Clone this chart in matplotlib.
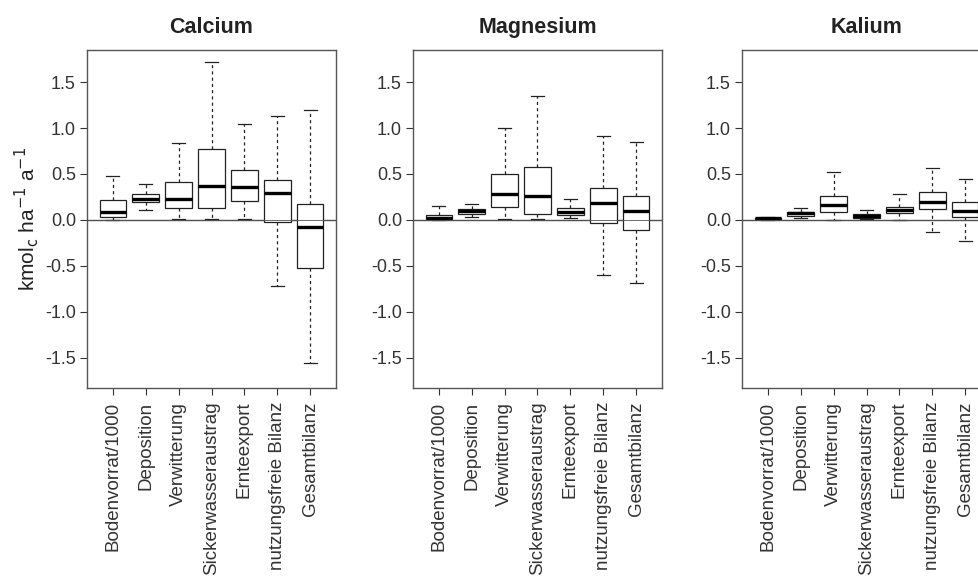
import matplotlib
matplotlib.use("Agg")
import matplotlib.pyplot as plt

plt.rcParams['font.family'] = ['Liberation Sans', 'DejaVu Sans']

categories = ['Bodenvorrat/1000', 'Deposition', 'Verwitterung', 'Sickerwasseraustrag',
              'Ernteexport', 'nutzungsfreie Bilanz', 'Gesamtbilanz']
elements = ['Calcium', 'Magnesium', 'Kalium']

# whisker low, Q1, median, Q3, whisker high (kmol_c / ha / a)
ca_lo = [0.00, 0.105, 0.01, 0.01, 0.01, -0.72, -1.56]
ca_q1 = [0.036, 0.19, 0.13, 0.13, 0.21, -0.025, -0.525]
ca_med = [0.087, 0.225, 0.23, 0.37, 0.36, 0.29, -0.08]
ca_q3 = [0.22, 0.28, 0.41, 0.77, 0.54, 0.435, 0.17]
ca_hi = [0.48, 0.39, 0.84, 1.72, 1.04, 1.13, 1.20]

mg_lo = [0.00, 0.03, 0.01, 0.01, 0.02, -0.60, -0.69]
mg_q1 = [0.007, 0.06, 0.145, 0.06, 0.054, -0.03, -0.115]
mg_med = [0.025, 0.094, 0.28, 0.265, 0.087, 0.18, 0.10]
mg_q3 = [0.054, 0.115, 0.50, 0.58, 0.125, 0.345, 0.26]
mg_hi = [0.156, 0.17, 1.00, 1.35, 0.225, 0.91, 0.845]

k_lo = [0.00, 0.02, 0.00, 0.005, 0.00, -0.134, -0.225]
k_q1 = [0.007, 0.043, 0.087, 0.018, 0.072, 0.12, 0.03]
k_med = [0.018, 0.07, 0.167, 0.043, 0.11, 0.20, 0.098]
k_q3 = [0.025, 0.087, 0.26, 0.06, 0.145, 0.305, 0.195]
k_hi = [0.036, 0.127, 0.52, 0.11, 0.28, 0.57, 0.44]

data = [(ca_lo, ca_q1, ca_med, ca_q3, ca_hi),
        (mg_lo, mg_q1, mg_med, mg_q3, mg_hi),
        (k_lo, k_q1, k_med, k_q3, k_hi)]

fig = plt.figure(figsize=(9.79, 5.77), dpi=100)
lefts = [87 / 979, 413 / 979, 742 / 979]
ink = '#222222'

for i, (name, (lo, q1, med, q3, hi)) in enumerate(zip(elements, data)):
    ax = fig.add_axes([lefts[i], 0.3276, 249 / 979, 0.5858])
    stats = []
    for j in range(len(categories)):
        stats.append({'whislo': lo[j], 'q1': q1[j], 'med': med[j],
                      'q3': q3[j], 'whishi': hi[j], 'fliers': []})
    ax.axhline(0, color='#444444', lw=1.0, zorder=1)
    ax.bxp(stats, positions=range(1, 8), widths=0.8, capwidths=0.4,
           showfliers=False, patch_artist=True,
           boxprops=dict(facecolor='white', edgecolor=ink, lw=0.9),
           medianprops=dict(color='black', lw=2.4, solid_capstyle='butt'),
           whiskerprops=dict(color=ink, lw=0.9, linestyle=(0, (2.5, 2.5))),
           capprops=dict(color=ink, lw=0.9))
    # zero line shows faintly through the boxes too
    ax.axhline(0, color='#555555', lw=0.6, zorder=3)
    ax.set_xlim(0.22, 7.78)
    ax.set_ylim(-1.83, 1.85)
    ax.set_yticks([-1.5, -1.0, -0.5, 0.0, 0.5, 1.0, 1.5])
    ax.set_yticklabels(['-1.5', '-1.0', '-0.5', '0.0', '0.5', '1.0', '1.5'])
    ax.set_xticks(range(1, 8))
    ax.set_xticklabels(categories, rotation=90, fontsize=13.5)
    ax.tick_params(axis='both', direction='out', length=5, width=0.8,
                   colors='#333333', labelsize=13, pad=3)
    ax.tick_params(axis='x', pad=5, labelsize=13.5)
    for sp in ax.spines.values():
        sp.set_color('#555555')
        sp.set_linewidth(1.0)
    ax.set_title(name, fontsize=15.5, fontweight='bold', color=ink, pad=12)
    if i == 0:
        ax.set_ylabel(r'kmol$_\mathrm{c}$ ha$^{-1}$ a$^{-1}$', fontsize=15,
                      color=ink, labelpad=3)

fig.savefig('out.png', dpi=100)
